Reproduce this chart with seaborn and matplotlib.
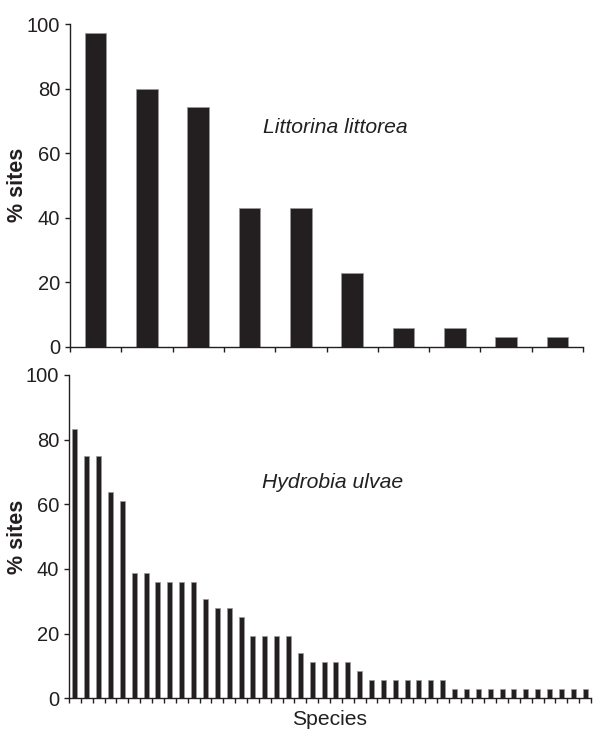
import matplotlib
matplotlib.use("Agg")
import matplotlib.pyplot as plt
import seaborn as sns
import numpy as np
import pandas as pd

# % of sites where each co-occurring species was found
littorina_pct = [97.1, 80.0, 74.3, 42.9, 42.9, 22.9, 5.7, 5.7, 2.9, 2.9]
hydrobia_pct = [83.3, 75.0, 75.0, 63.9, 61.1, 38.9, 38.9, 36.1, 36.1, 36.1,
                36.1, 30.6, 27.8, 27.8, 25.0, 19.4, 19.4, 19.4, 19.4, 13.9,
                11.1, 11.1, 11.1, 11.1, 8.3, 5.6, 5.6, 5.6, 5.6, 5.6,
                5.6, 5.6, 2.8, 2.8, 2.8, 2.8, 2.8, 2.8, 2.8, 2.8,
                2.8, 2.8, 2.8, 2.8]
panel_titles = ["Littorina littorea", "Hydrobia ulvae"]
y_ticks = [0, 20, 40, 60, 80, 100]

ink = "#231f20"

sns.set_style("ticks")
plt.rcParams["font.family"] = ["Liberation Sans", "DejaVu Sans"]
plt.rcParams["font.size"] = 14

fig = plt.figure(figsize=(5.95, 7.33), dpi=100)
ax1 = fig.add_axes([70 / 595, (733 - 346.7) / 733, 513 / 595, 322.7 / 733])
ax2 = fig.add_axes([69 / 595, (733 - 698.3) / 733, 522 / 595, 323.3 / 733])

panels = [(ax1, littorina_pct, panel_titles[0], 0.376, 0.662),
          (ax2, hydrobia_pct, panel_titles[1], 0.369, 0.650)]

for ax, vals, title, tx, ty in panels:
    df = pd.DataFrame({"species": [f"sp{i + 1}" for i in range(len(vals))],
                       "pct": vals})
    sns.barplot(data=df, x="species", y="pct", color=ink, saturation=1,
                width=0.42, edgecolor="#9a9a9a", linewidth=0.5, ax=ax)
    n = len(vals)
    ax.set_xlim(-0.5, n - 0.5)
    ax.set_ylim(0, 100)
    ax.set_xticks(np.arange(n + 1) - 0.5)
    ax.set_xticklabels([])
    ax.set_yticks(y_ticks)
    ax.set_yticklabels([str(t) for t in y_ticks], color=ink)
    ax.tick_params(axis="both", direction="out", length=3.5, width=1,
                   color=ink, pad=3.5)
    ax.tick_params(axis="y", labelsize=14.5)
    for side in ["top", "right"]:
        ax.spines[side].set_visible(False)
    for side in ["left", "bottom"]:
        ax.spines[side].set_linewidth(1)
        ax.spines[side].set_color(ink)
    ax.set_ylabel("% sites", fontweight="bold", fontsize=15.5, color=ink)
    ax.set_xlabel("")
    ax.text(tx, ty, title, transform=ax.transAxes, fontstyle="italic",
            fontsize=15.2, color=ink, ha="left", va="baseline")

ax1.yaxis.set_label_coords(-0.0825, 0.5)
ax2.yaxis.set_label_coords(-0.079, 0.5)
ax2.set_xlabel("Species", fontsize=15.2, color=ink)
ax2.xaxis.set_label_coords(0.5, -0.036)

fig.savefig("out.png", dpi=100)
